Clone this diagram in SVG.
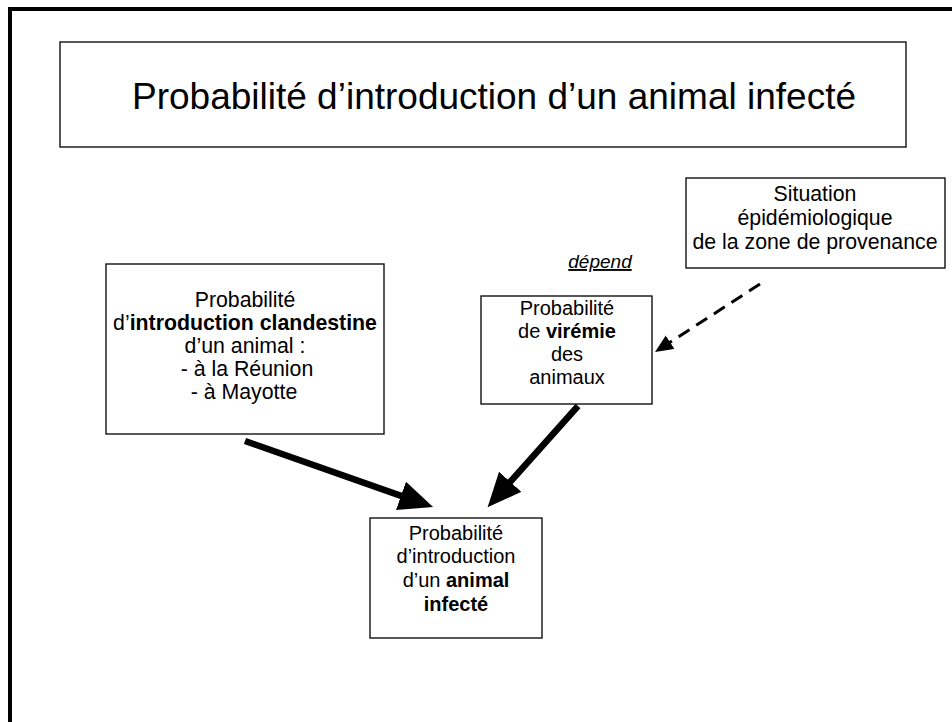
<svg xmlns="http://www.w3.org/2000/svg" width="952" height="722" viewBox="0 0 952 722">
  <style>
    text { font-family: "Liberation Sans", Arial, sans-serif; fill: #000; }
    .box { fill: #fff; stroke: #111; stroke-width: 1.4; }
    .lbl { font-size: 20px; text-anchor: middle; }
    .lg { font-size: 21.3px; }
    .b { font-weight: bold; }
    .title { font-size: 37px; text-anchor: middle; }
    .thick { stroke: #000; stroke-width: 6.5; fill: none; }
    .dash { stroke: #000; stroke-width: 3; fill: none; stroke-dasharray: 13 8; }
  </style>
  <defs>
    <marker id="headBig" markerUnits="userSpaceOnUse" markerWidth="36" markerHeight="32" refX="10" refY="15" orient="auto">
      <path d="M0,0 L34,15 L0,30 z" fill="#000"/>
    </marker>
    <marker id="headSmall" markerUnits="userSpaceOnUse" markerWidth="20" markerHeight="18" refX="6" refY="8" orient="auto">
      <path d="M0,0 L18,8 L0,16 z" fill="#000"/>
    </marker>
  </defs>

  <rect width="952" height="722" fill="#fff"/>

  <!-- slide frame: only the left and top edges fall inside the view -->
  <path d="M10,730 L10,9 L960,9" fill="none" stroke="#000" stroke-width="4"/>

  <g id="title">
    <rect class="box" x="60" y="42" width="846" height="105"/>
    <text class="title" x="494" y="109">Probabilité d’introduction d’un animal infecté</text>
  </g>

  <g id="situation">
    <rect class="box" x="686" y="178" width="259" height="90"/>
    <text class="lbl lg" x="815" y="201">Situation</text>
    <text class="lbl lg" x="815" y="225">épidémiologique</text>
    <text class="lbl lg" x="815" y="249">de la zone de provenance</text>
  </g>

  <g id="clandestine">
    <rect class="box" x="106" y="264" width="278" height="170"/>
    <text class="lbl lg" x="245" y="307">Probabilité</text>
    <text class="lbl lg" x="245" y="330">d’<tspan class="b">introduction clandestine</tspan></text>
    <text class="lbl lg" x="245" y="353">d’un animal :</text>
    <text class="lbl lg" x="247" y="376">- à la Réunion</text>
    <text class="lbl lg" x="244" y="399">- à Mayotte</text>
  </g>

  <g id="viremie">
    <rect class="box" x="481" y="296" width="171" height="108"/>
    <text class="lbl" x="567" y="315">Probabilité</text>
    <text class="lbl" x="567" y="338">de <tspan class="b">virémie</tspan></text>
    <text class="lbl" x="567" y="361">des</text>
    <text class="lbl" x="567" y="384">animaux</text>
  </g>

  <g id="infected">
    <rect class="box" x="370" y="518" width="172" height="120"/>
    <text class="lbl" x="456" y="540">Probabilité</text>
    <text class="lbl" x="456" y="563">d’introduction</text>
    <text class="lbl" x="456" y="587">d’un <tspan class="b">animal</tspan></text>
    <text class="lbl b" x="456" y="611">infecté</text>
  </g>

  <g id="depend-label">
    <text x="600" y="268" font-size="19" font-style="italic" text-anchor="middle" text-decoration="underline">dépend</text>
  </g>

  <g id="connectors">
    <line class="thick" x1="245" y1="441" x2="410.4" y2="499.1" marker-end="url(#headBig)"/>
    <line class="thick" x1="578" y1="406" x2="503.6" y2="489.3" marker-end="url(#headBig)"/>
    <line class="dash" x1="760" y1="284" x2="665.1" y2="345.5" marker-end="url(#headSmall)"/>
  </g>
</svg>
